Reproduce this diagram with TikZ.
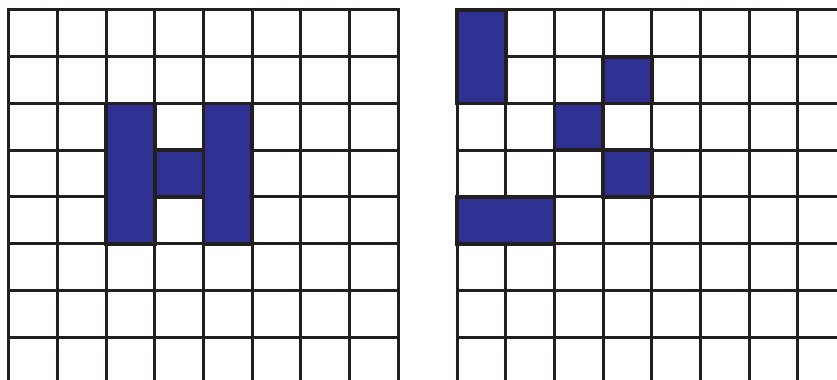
\documentclass[tikz,border=0pt]{standalone}
\usepackage{tikz}
\usetikzlibrary{positioning}
\definecolor{cellblue}{HTML}{2E3192}
\definecolor{linegray}{HTML}{231F20}

\tikzset{
  gridline/.style={draw=linegray, line width=3pt, line cap=rect},
  cellon/.style={fill=cellblue, draw=linegray, line width=3.6pt}
}

\begin{document}
\begin{tikzpicture}[x=48.65pt, y=-46.75pt]
    \useasboundingbox (-0.185,-0.214) rectangle (17.02,7.914);
    \clip (-0.185,-0.214) rectangle (17.02,7.914);

    % Left grid
    \foreach \i in {0,...,8}
        \draw[gridline] (\i,0) -- (\i,8.5);
    \foreach \j in {0,...,8}
        \draw[gridline] (0,\j) -- (8,\j);

    % Left pattern
    \draw[cellon] (2,2) rectangle (3,5);
    \draw[cellon] (4,2) rectangle (5,5);
    \draw[cellon] (3,3) rectangle (4,4);

    % Right grid
    \begin{scope}[xshift=448.3pt]
        \foreach \i in {0,...,8}
            \draw[gridline] (\i,0) -- (\i,8.5);
        \foreach \j in {0,...,8}
            \draw[gridline] (0,\j) -- (8,\j);

        % Right pattern
        \draw[cellon] (0,0) rectangle (1,2);
        \draw[cellon] (3,1) rectangle (4,2);
        \draw[cellon] (2,2) rectangle (3,3);
        \draw[cellon] (3,3) rectangle (4,4);
        \draw[cellon] (0,4) rectangle (2,5);
    \end{scope}
\end{tikzpicture}
\end{document}
